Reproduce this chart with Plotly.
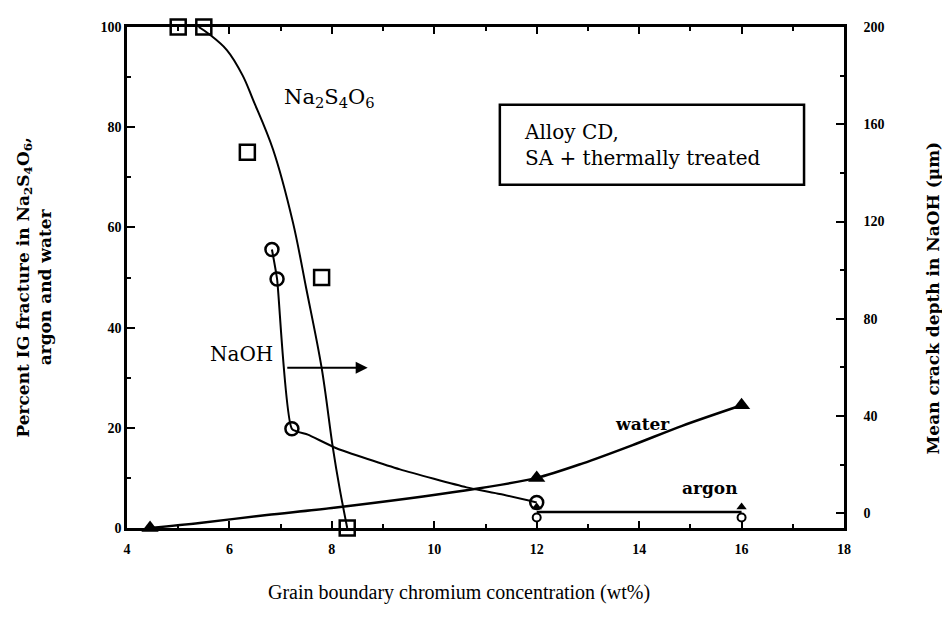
import plotly.graph_objects as go

# ---------------- data ----------------
# Na2S4O6 : percent IG fracture (left axis)
na2s4o6_x = [5.0, 5.5, 6.35, 7.8, 8.3]
na2s4o6_y = [100, 100, 75, 50, 0]
na2s4o6_curve_x = [5.4, 5.6, 5.95, 6.26, 6.46, 6.85, 7.24, 7.5, 7.8, 8.02, 8.15, 8.3]
na2s4o6_curve_y = [100, 98.6, 95.4, 90.3, 85.5, 75.6, 61, 47.8, 32, 16, 8, 0]

# NaOH : mean crack depth (right axis, um)
naoh_x = [6.83, 6.93, 7.22, 12.0]
naoh_y = [108.5, 96.4, 34.8, 4.5]
naoh_curve_x = [6.83, 6.93, 7.22, 7.53, 8.1, 9.33, 10.63, 11.28, 12.0]
naoh_curve_y = [108.5, 96.4, 34.8, 32.4, 26.7, 18.1, 10.7, 8.0, 4.5]

# water : percent IG fracture (left axis)
water_x = [4.45, 12.0, 16.0]
water_y = [0, 10, 24.5]
water_curve_x = [4.45, 5.42, 6.73, 8.0, 10.6, 12.0, 12.9, 13.86, 14.84, 16.0]
water_curve_y = [0, 1, 2.6, 4, 7.5, 10, 12.9, 16.5, 20.4, 24.5]

# argon : percent IG fracture (left axis)
argon_x = [12.0, 16.0]
argon_y = [3.2, 3.2]
argon_tri_y = [4.2, 4.2]
argon_circ_y = [2.1, 2.1]

x_ticks = [4, 6, 8, 10, 12, 14, 16, 18]
left_ticks = [0, 20, 40, 60, 80, 100]
right_ticks = [0, 40, 80, 120, 160, 200]

FONT = "Liberation Serif"
SERIF2 = "DejaVu Serif"
BLACK = "black"

fig = go.Figure()

# Na2S4O6 curve + squares
fig.add_trace(go.Scatter(x=na2s4o6_curve_x, y=na2s4o6_curve_y, mode="lines",
                         line=dict(color=BLACK, width=2, shape="spline", smoothing=1.0),
                         showlegend=False, hoverinfo="skip", cliponaxis=False))
fig.add_trace(go.Scatter(x=na2s4o6_x, y=na2s4o6_y, mode="markers",
                         marker=dict(symbol="square-open", size=15, color=BLACK,
                                     line=dict(width=2.5, color=BLACK)),
                         showlegend=False, cliponaxis=False))

# water curve + triangles
fig.add_trace(go.Scatter(x=water_curve_x, y=water_curve_y, mode="lines",
                         line=dict(color=BLACK, width=2.5, shape="spline", smoothing=0.8),
                         showlegend=False, hoverinfo="skip", cliponaxis=False))
fig.add_trace(go.Scatter(x=water_x, y=water_y, mode="markers",
                         marker=dict(symbol="triangle-up", size=15, color=BLACK),
                         showlegend=False, cliponaxis=False))

# argon line + markers
fig.add_trace(go.Scatter(x=argon_x, y=argon_y, mode="lines",
                         line=dict(color=BLACK, width=2.5),
                         showlegend=False, hoverinfo="skip", cliponaxis=False))
fig.add_trace(go.Scatter(x=argon_x, y=argon_tri_y, mode="markers",
                         marker=dict(symbol="triangle-up", size=9, color=BLACK),
                         showlegend=False, cliponaxis=False))
fig.add_trace(go.Scatter(x=argon_x, y=argon_circ_y, mode="markers",
                         marker=dict(symbol="circle-open", size=8, color=BLACK,
                                     line=dict(width=2, color=BLACK)),
                         showlegend=False, cliponaxis=False))

# NaOH curve + circles (right axis)
fig.add_trace(go.Scatter(x=naoh_curve_x, y=naoh_curve_y, mode="lines", yaxis="y2",
                         line=dict(color=BLACK, width=2, shape="spline", smoothing=0.5),
                         showlegend=False, hoverinfo="skip", cliponaxis=False))
fig.add_trace(go.Scatter(x=naoh_x, y=naoh_y, mode="markers", yaxis="y2",
                         marker=dict(symbol="circle-open", size=13, color=BLACK,
                                     line=dict(width=2.5, color=BLACK)),
                         showlegend=False, cliponaxis=False))

tickfont = dict(family=FONT, size=14, color=BLACK, weight="bold")

fig.update_layout(
    width=942, height=614,
    margin=dict(l=119, r=106, t=16, b=94),
    paper_bgcolor="white", plot_bgcolor="white",
    font=dict(family=FONT, color=BLACK),
    xaxis=dict(range=[4, 18], tickvals=x_ticks, showgrid=False, zeroline=False,
               showline=True, linecolor=BLACK, linewidth=2.5,
               ticks="inside", ticklen=7, tickwidth=2, tickcolor=BLACK,
               minor=dict(dtick=1, tick0=4, ticks="inside", ticklen=4, tickcolor=BLACK, tickwidth=1.5),
               mirror="ticks", tickfont=tickfont, ticklabelstandoff=6),
    yaxis=dict(range=[0, 100], tickvals=left_ticks, showgrid=False, zeroline=False,
               showline=True, linecolor=BLACK, linewidth=2.5,
               ticks="inside", ticklen=8, tickwidth=2, tickcolor=BLACK,
               minor=dict(dtick=10, tick0=0, ticks="inside", ticklen=4, tickcolor=BLACK, tickwidth=1.5),
               tickfont=tickfont),
    yaxis2=dict(range=[-6, 200], tickvals=right_ticks, overlaying="y", side="right",
                showgrid=False, zeroline=False,
                showline=True, linecolor=BLACK, linewidth=2.5,
                ticks="inside", ticklen=8, tickwidth=2, tickcolor=BLACK,
                minor=dict(dtick=20, tick0=0, ticks="inside", ticklen=4, tickcolor=BLACK, tickwidth=1.5),
                tickfont=tickfont, ticklabelstandoff=14),
)

# info box
fig.add_shape(type="rect", xref="x", yref="y", x0=11.28, x1=17.22, y0=68.5, y1=84.5,
              line=dict(color=BLACK, width=2.5), fillcolor="white", layer="below")

ann_font = dict(family=SERIF2, size=20, color=BLACK)
fig.add_annotation(x=11.72, y=76.4, xref="x", yref="y", xanchor="left", yanchor="middle",
                   text="Alloy CD,<br>SA + thermally treated", showarrow=False, align="left",
                   font=ann_font)
fig.add_annotation(x=7.96, y=85.8, xref="x", yref="y", showarrow=False,
                   xanchor="center", yanchor="middle",
                   text="Na<sub>2</sub>S<sub>4</sub>O<sub>6</sub>", font=dict(family=SERIF2, size=21, color=BLACK))
fig.add_annotation(x=6.23, y=34.7, xref="x", yref="y", showarrow=False,
                   xanchor="center", yanchor="middle",
                   text="NaOH", font=ann_font)
fig.add_annotation(x=14.06, y=20.8, xref="x", yref="y", showarrow=False,
                   xanchor="center", yanchor="middle",
                   text="<b>water</b>", font=dict(family=SERIF2, size=17, color=BLACK))
fig.add_annotation(x=15.38, y=8.0, xref="x", yref="y", showarrow=False,
                   xanchor="center", yanchor="middle",
                   text="<b>argon</b>", font=dict(family=SERIF2, size=17, color=BLACK))
# NaOH arrow pointing to the right axis
fig.add_annotation(x=8.7, y=32, ax=7.1, ay=32, xref="x", yref="y", axref="x", ayref="y",
                   text="", showarrow=True, arrowhead=2, arrowsize=1.2, arrowwidth=2,
                   arrowcolor=BLACK)

# axis titles
fig.add_annotation(x=-0.131, y=0.48, xref="paper", yref="paper", textangle=-90,
                   xanchor="center", yanchor="middle",
                   text="Percent IG fracture in Na<sub>2</sub>S<sub>4</sub>O<sub>6</sub>,<br>argon and water",
                   showarrow=False, font=dict(family=SERIF2, size=17, color=BLACK, weight="bold"))
fig.add_annotation(x=1.124, y=0.46, xref="paper", yref="paper", textangle=-90,
                   xanchor="center", yanchor="middle",
                   text="Mean crack depth in NaOH (µm)", showarrow=False,
                   font=dict(family=SERIF2, size=17, color=BLACK, weight="bold"))
fig.add_annotation(x=0.463, y=-0.129, xref="paper", yref="paper",
                   xanchor="center", yanchor="middle",
                   text="Grain boundary chromium concentration (wt%)", showarrow=False,
                   font=dict(family=FONT, size=20, color=BLACK))

fig.write_html("out.html")
